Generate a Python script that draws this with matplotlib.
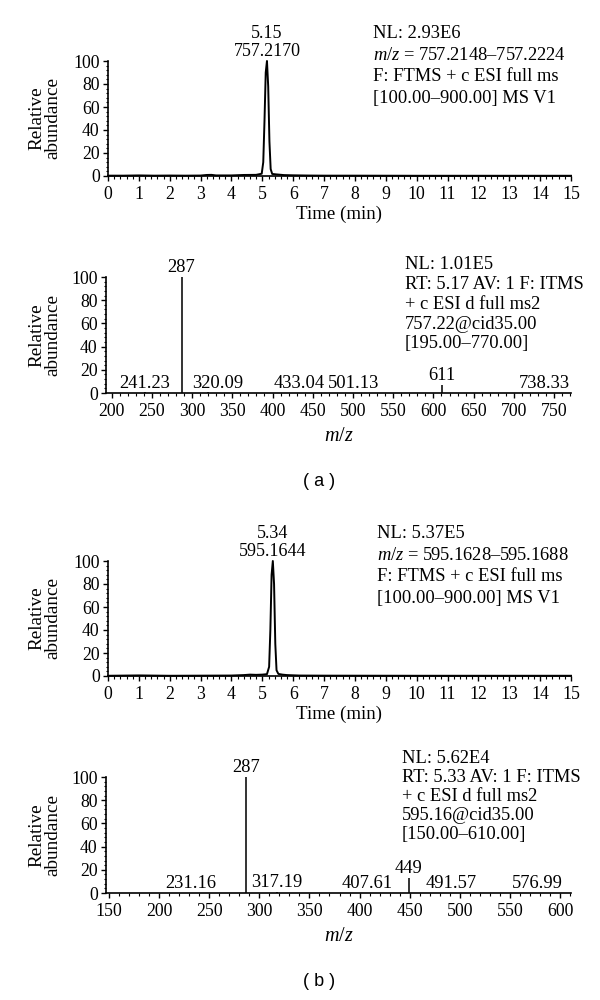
import matplotlib
matplotlib.use("Agg")
import matplotlib.pyplot as plt
from matplotlib.ticker import MultipleLocator

plt.rcParams['font.family'] = ['Liberation Serif', 'DejaVu Serif']
plt.rcParams['mathtext.fontset'] = 'custom'
plt.rcParams['mathtext.rm'] = 'Liberation Serif'
plt.rcParams['mathtext.it'] = 'Liberation Serif:italic'
plt.rcParams['font.size'] = 13

# ---------------- data ----------------
# (a) extracted ion chromatogram
time_a = [0.0, 0.5, 1.0, 1.5, 2.0, 2.5, 3.0, 3.2, 3.35, 3.5, 4.0, 4.4, 4.8, 4.98, 5.03, 5.07,
          5.11, 5.15, 5.19, 5.23, 5.27, 5.32, 5.45, 5.7, 6.0, 6.5, 7.0, 8.0, 10.0, 12.0, 15.0]
abund_a = [0.3, 0.3, 0.5, 0.3, 0.4, 0.3, 0.4, 0.9, 1.0, 0.5, 0.5, 0.9, 1.0, 2.0, 12, 48,
           90, 100, 78, 30, 6, 1.8, 1.4, 0.8, 0.6, 0.4, 0.3, 0.3, 0.2, 0.2, 0.2]
peak_a = (5.15, "5.15", "757.2170")

# (a) MS2 spectrum
mz_a = [241.23, 287, 320.09, 433.04, 501.13, 611, 738.33]
int_a = [0.5, 100, 0.5, 0.4, 0.4, 7, 0.3]
lab_a = ["241.23", "287", "320.09", "433.04", "501.13", "611", "738.33"]

# (b) extracted ion chromatogram
time_b = [0.0, 1.0, 2.0, 3.0, 4.0, 4.4, 4.6, 4.8, 5.0, 5.15, 5.22, 5.26, 5.30, 5.34, 5.38,
          5.42, 5.46, 5.52, 5.65, 5.8, 6.2, 7.0, 10.0, 15.0]
abund_b = [0.2, 0.5, 0.2, 0.3, 0.4, 0.8, 1.2, 1.0, 1.2, 1.6, 8, 40, 88, 100, 80,
           28, 5, 1.8, 1.2, 0.8, 0.4, 0.3, 0.2, 0.2]
peak_b = (5.34, "5.34", "595.1644")

# (b) MS2 spectrum
mz_b = [231.16, 287, 317.19, 407.61, 449, 491.57, 576.99]
int_b = [0.4, 100, 0.6, 0.4, 13, 0.4, 0.3]
lab_b = ["231.16", "287", "317.19", "407.61", "449", "491.57", "576.99"]

info_1 = ["NL: 2.93E6", "$m/z$ = 757.2148\u2013757.2224",
          "F: FTMS + c ESI full ms", "[100.00\u2013900.00] MS V1"]
info_2 = ["NL: 1.01E5", "RT: 5.17 AV: 1 F: ITMS", "+ c ESI d full ms2",
          "757.22@cid35.00", "[195.00\u2013770.00]"]
info_3 = ["NL: 5.37E5", "$m/z$ = 595.1628\u2013595.1688",
          "F: FTMS + c ESI full ms", "[100.00\u2013900.00] MS V1"]
info_4 = ["NL: 5.62E4", "RT: 5.33 AV: 1 F: ITMS", "+ c ESI d full ms2",
          "595.16@cid35.00", "[150.00\u2013610.00]"]

# ---------------- layout ----------------
W, H = 600, 1000
fig = plt.figure(figsize=(6, 10), dpi=100)
FS = 13.3


def px_axes(left, right, top, bottom):
    return fig.add_axes([left / W, 1 - bottom / H, (right - left) / W, (bottom - top) / H])


def fx(x):
    return x / W


def fy(y):
    return 1 - y / H


def style(ax, xmajor, xminor):
    for s in ("top", "right"):
        ax.spines[s].set_visible(False)
    for s in ("left", "bottom"):
        ax.spines[s].set_linewidth(1.2)
    ax.set_ylim(0, 100)
    ax.yaxis.set_major_locator(MultipleLocator(20))
    ax.yaxis.set_minor_locator(MultipleLocator(4))
    ax.xaxis.set_major_locator(MultipleLocator(xmajor))
    ax.xaxis.set_minor_locator(MultipleLocator(xminor))
    ax.tick_params(which="major", direction="out", length=3.5, width=1.0, labelsize=12.8)
    ax.tick_params(which="minor", direction="out", length=1.8, width=0.8)
    ax.tick_params(axis="y", which="major", pad=2.5)
    ax.tick_params(axis="x", which="major", pad=3.5)


def ylabel(yc):
    fig.text(fx(45), fy(yc), "Relative\nabundance", rotation=90, ha="center", va="center",
             fontsize=13.8, linespacing=0.95)


def info(lines, x, y0, dy):
    for k, line in enumerate(lines):
        fig.text(fx(x), fy(y0 + k * dy + 6.2), line, ha="left", va="baseline", fontsize=FS)


def chrom(ax, t, a, peak):
    ax.plot(t, a, color="black", lw=1.4, clip_on=False)
    ax.set_xlim(0, 15)
    style(ax, 1, 0.2)
    ax.annotate(peak[2], xy=(peak[0], 100), xytext=(0, 3.4), textcoords="offset points",
                ha="center", va="baseline", fontsize=13, annotation_clip=False)
    ax.annotate(peak[1], xy=(peak[0], 100), xytext=(0, 16.3), textcoords="offset points",
                ha="center", va="baseline", fontsize=13, annotation_clip=False)
    ax.set_xlabel("Time (min)", fontsize=13.6, labelpad=2)


def spectrum(ax, mz, inten, labels, xlim, nudges):
    ax.vlines(mz, 0, inten, color="#333333", lw=1.4, clip_on=False)
    ax.set_xlim(*xlim)
    style(ax, 50, 10)
    for m, v, lab in zip(mz, inten, labels):
        ax.annotate(lab, xy=(m, v), xytext=(nudges.get(lab, 0), 3.5), textcoords="offset points",
                    ha="center", va="baseline", fontsize=13.3, annotation_clip=False)
    ax.set_xlabel("$m/z$", fontsize=14.5, labelpad=5)


# panel 1
ax1 = px_axes(108, 571, 61, 176)
chrom(ax1, time_a, abund_a, peak_a)
ylabel(118)
info(info_1, 373, 32, 21.5)

# panel 2
ax2 = px_axes(106, 571, 277, 393)
spectrum(ax2, mz_a, int_a, lab_a, (193, 771), {"320.09": 7})
ylabel(335)
info(info_2, 405, 263, 19.8)
fig.text(fx(319), fy(482), "( a )", ha="center", va="center", fontsize=13,
         family=["Liberation Sans", "DejaVu Sans"])

# panel 3
ax3 = px_axes(108, 571, 561, 676)
chrom(ax3, time_b, abund_b, peak_b)
ylabel(618)
info(info_3, 377, 532, 21.5)

# panel 4
ax4 = px_axes(106, 571, 777, 893)
spectrum(ax4, mz_b, int_b, lab_b, (147, 611), {})
ylabel(835)
info(info_4, 402, 757, 19)
fig.text(fx(319), fy(982), "( b )", ha="center", va="center", fontsize=13,
         family=["Liberation Sans", "DejaVu Sans"])

fig.savefig("out.png", dpi=100)
